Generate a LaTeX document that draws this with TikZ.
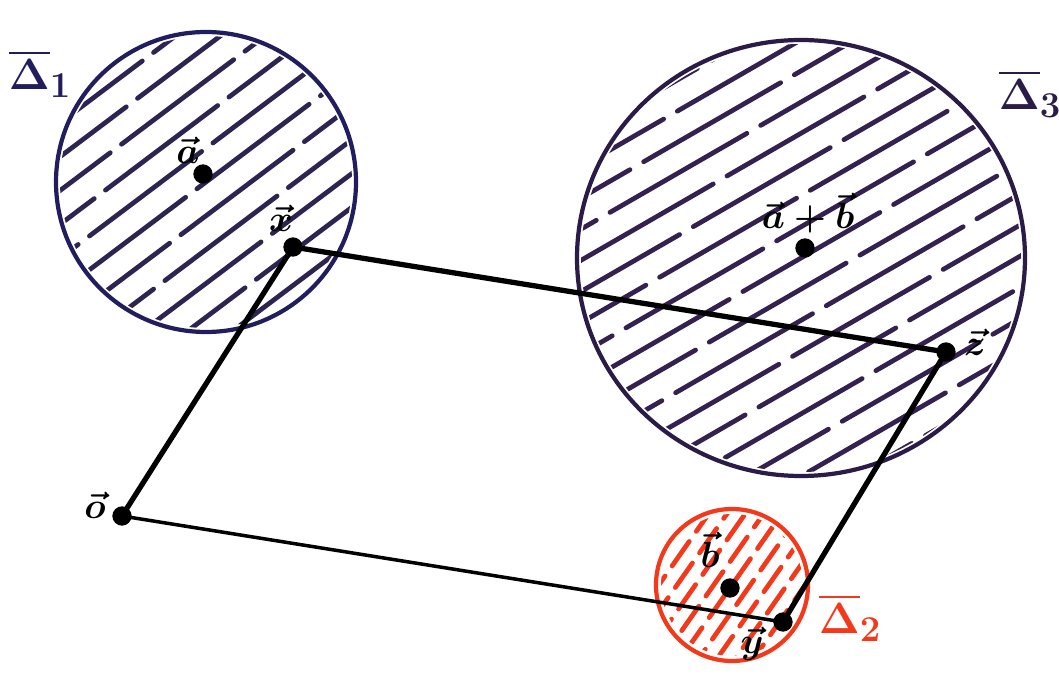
\documentclass[tikz,border=0pt]{standalone}
\usepackage{amsmath}
\definecolor{navy}{HTML}{221E5E}
\definecolor{navyh}{HTML}{2E2452}
\definecolor{plum}{HTML}{2B1B47}
\definecolor{plumh}{HTML}{34214F}
\definecolor{redpen}{HTML}{F2391C}
\begin{document}
\begin{tikzpicture}[x=0.02cm,y=-0.02cm,
  dot/.style={circle,fill=black,inner sep=0pt,minimum size=11pt},
  vlab/.style={font=\fontsize{20}{22}\selectfont\boldmath,inner sep=1pt},
  dlab/.style={font=\fontsize{28}{30}\selectfont\boldmath},
  thickside/.style={line width=3pt,black},
  thinside/.style={line width=2pt,black},
  hatchA/.style={line width=2.7pt,navyh,line cap=round,dash pattern=on 80pt off 8pt},
  hatchC/.style={line width=2.7pt,plumh,line cap=round,dash pattern=on 90pt off 9pt},
  hatchB/.style={line width=2.7pt,redpen,line cap=round,dash pattern=on 17pt off 7pt}]
\useasboundingbox (0,0) rectangle (1059,685);

% Delta 1
\begin{scope}
  \clip (206,182) circle [radius=146];
  \begin{scope}[rotate around={37:(206,182)}]
    \foreach \k in {-6,...,6}
      \draw[hatchA,dash phase={\k*23pt}] (40,182+\k*27) -- (372,182+\k*27);
  \end{scope}
\end{scope}
\draw[navy,line width=2.4pt] (206,182) circle [radius=150];

% Delta 3
\begin{scope}
  \clip (801,258) ellipse [x radius=220, y radius=214];
  \begin{scope}[rotate around={30:(801,258)}]
    \foreach \k in {-9,...,9}
      \draw[hatchC,dash phase={\k*31pt}] (560,258+\k*27) -- (1042,258+\k*27);
  \end{scope}
\end{scope}
\draw[plum,line width=2.4pt] (801,258) ellipse [x radius=224, y radius=218];

% Delta 2
\begin{scope}
  \clip (732,585) circle [radius=71];
  \begin{scope}[rotate around={55:(732,585)}]
    \foreach \k in {-5,...,5}
      \draw[hatchB,dash phase={\k*9pt}] (650,585+\k*15) -- (814,585+\k*15);
  \end{scope}
\end{scope}
\draw[redpen,line width=2.4pt] (732,585) circle [radius=76];

% points
\node[dot] (a) at (203,174) {};
\node[dot] (x) at (293,247) {};
\node[dot] (ab) at (805,248) {};
\node[dot] (z) at (946,352) {};
\node[dot] (o) at (122,516) {};
\node[dot] (b) at (730,588) {};
\node[dot] (y) at (783,622) {};

% parallelogram
\draw[thickside] (o.center) -- (x.center);
\draw[thickside] (x.center) -- (z.center);
\draw[thickside] (z.center) -- (y.center);
\draw[thinside] (o.center) -- (y.center);

% labels
\node[vlab] (la) at (188,150) {$\vec{a}$};
\node[vlab] (lx) at (281,218) {$\vec{x}$};
\node[vlab] (lab) at (808,213) {$\vec{a}+\vec{b}$};
\node[vlab] (lz) at (975,342) {$\vec{z}$};
\node[vlab] (lo) at (95,505) {$\vec{o}$};
\node[vlab] (lb) at (710,550) {$\vec{b}$};
\node[vlab] (ly) at (752,644) {$\vec{y}$};
\node[dlab,navy] (d1) at (40,74) {$\overline{\Delta}_1$};
\node[dlab,plum] (d3) at (1030,94) {$\overline{\Delta}_3$};
\node[dlab,redpen] (d2) at (850,618) {$\overline{\Delta}_2$};
\end{tikzpicture}
\end{document}
